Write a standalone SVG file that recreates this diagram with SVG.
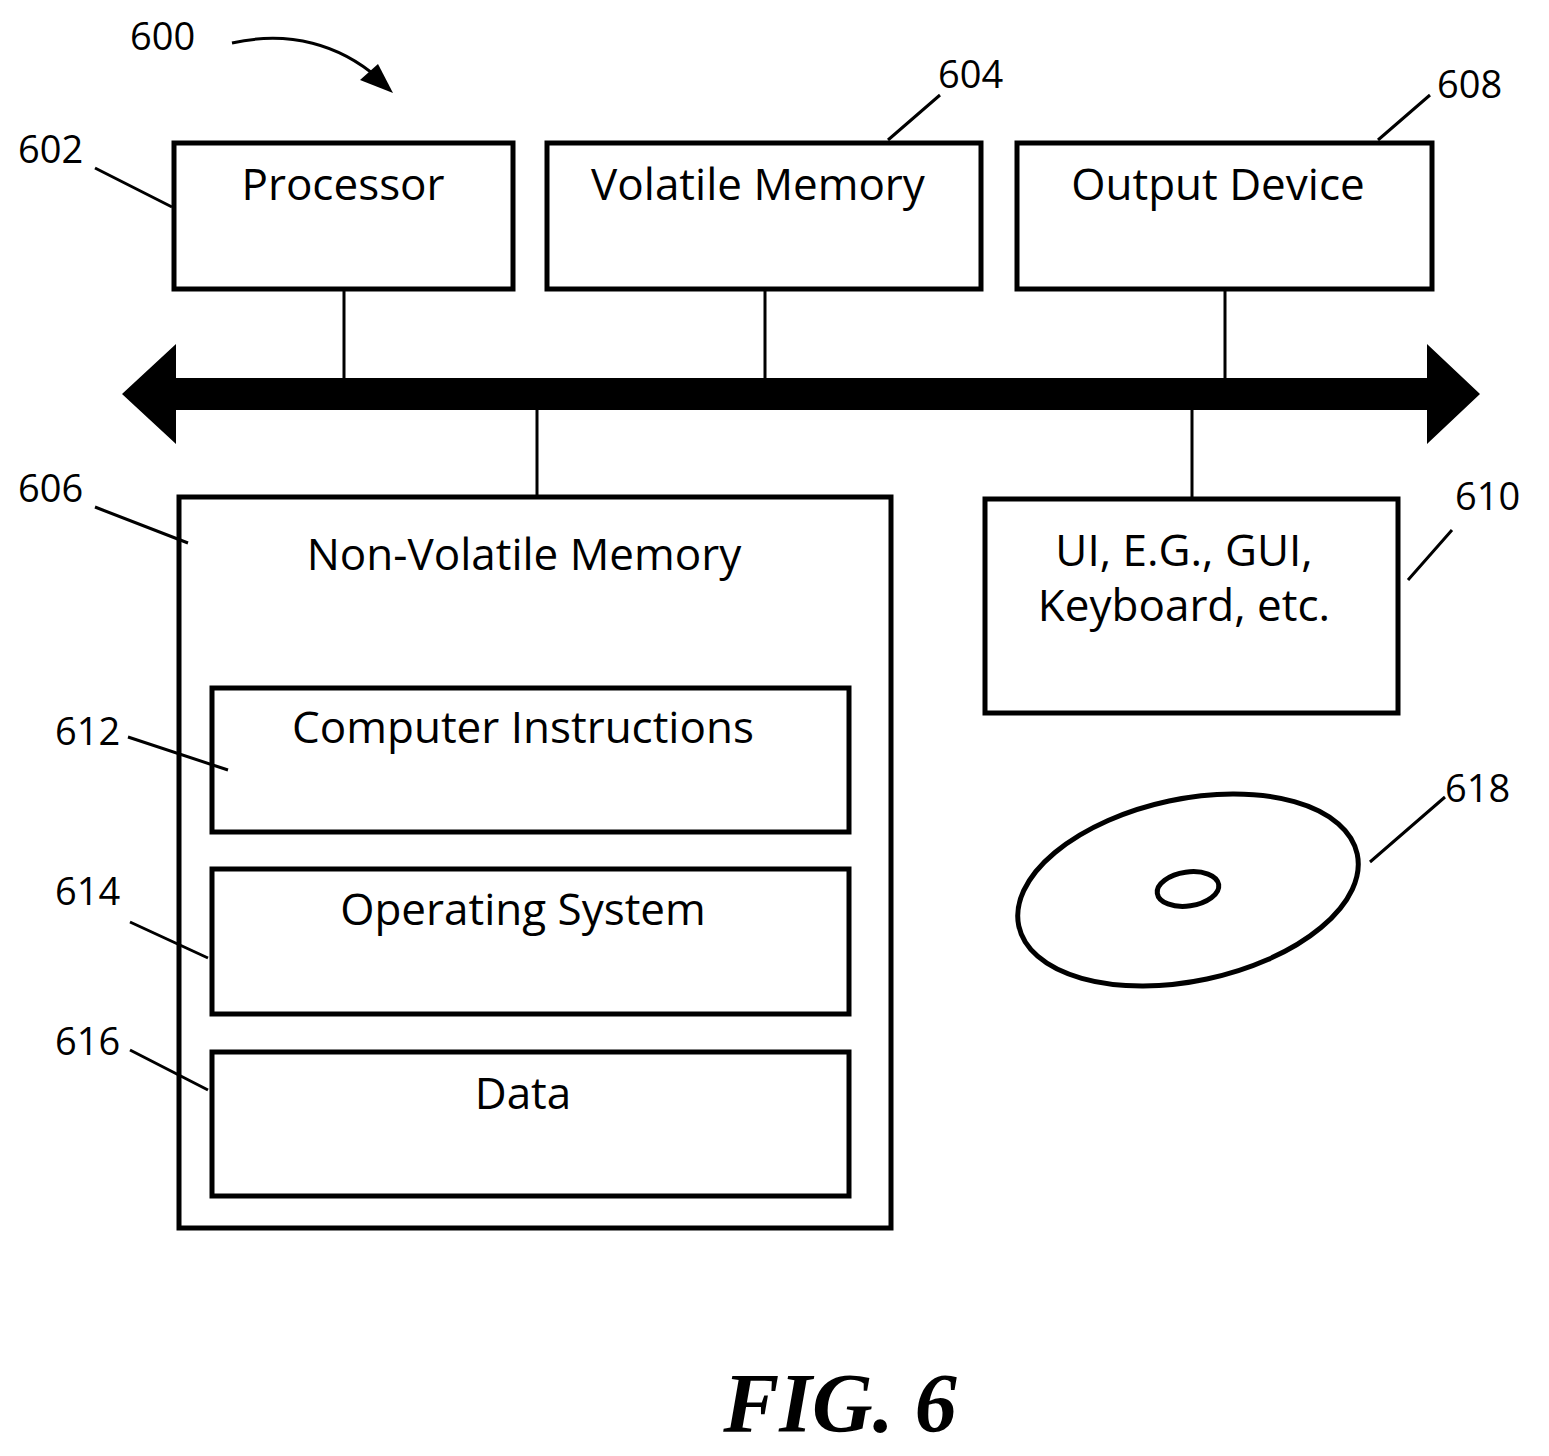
<svg xmlns="http://www.w3.org/2000/svg" width="1549" height="1456" viewBox="0 0 1549 1456">
<style>
.b{fill:none;stroke:#000;stroke-width:5}
.l{fill:none;stroke:#000;stroke-width:3}
.t{font-family:"Open Sans","Liberation Sans",sans-serif;font-size:44px;text-anchor:middle}
.n{font-family:"Open Sans","Liberation Sans",sans-serif;font-size:38px}
</style>
<defs><marker id="a" markerWidth="10" markerHeight="10" refX="8" refY="5" orient="auto" markerUnits="userSpaceOnUse" viewBox="0 0 10 10"><path d="M0,0L10,5L0,10z"/></marker></defs>
<rect width="1549" height="1456" fill="#fff"/>
<g id="connectors">
<path d="M122,394L176,344V378H1427V344L1480,394L1427,444V410H176V444Z" fill="#000"/>
<path class="l" d="M344,289V378M765,289V378M1225,289V378M537,410V497M1192,410V497"/>
<path class="l" d="M95,168L172,207M940,95L888,140M1430,95L1378,140M95,507L188,543M1452,530L1408,580M128,737L228,770M130,922L208,958M130,1050L208,1090M1445,797L1370,862"/>
<path d="M232,43C290,30 340,45 378,78" fill="none" stroke="#000" stroke-width="3"/>
<path d="M393,93L360,80L378,64Z" fill="#000"/>
</g>
<g id="n602"><rect class="b" x="174" y="143" width="339" height="146"/><text class="t" x="343" y="200">Processor</text></g>
<g id="n604"><rect class="b" x="547" y="143" width="434" height="146"/><text class="t" x="758" y="200">Volatile Memory</text></g>
<g id="n608"><rect class="b" x="1017" y="143" width="415" height="146"/><text class="t" x="1218" y="200">Output Device</text></g>
<g id="n606"><rect class="b" x="179" y="497" width="712" height="731"/><text class="t" x="524" y="570">Non-Volatile Memory</text></g>
<g id="n610"><rect class="b" x="985" y="499" width="413" height="214"/><text class="t" x="1184" y="566">UI, E.G., GUI,</text><text class="t" x="1184" y="621">Keyboard, etc.</text></g>
<g id="n612"><rect class="b" x="212" y="688" width="637" height="144"/><text class="t" x="523" y="743">Computer Instructions</text></g>
<g id="n614"><rect class="b" x="212" y="869" width="637" height="145"/><text class="t" x="523" y="925">Operating System</text></g>
<g id="n616"><rect class="b" x="212" y="1052" width="637" height="144"/><text class="t" x="523" y="1109">Data</text></g>
<g id="n618"><ellipse class="b" cx="1188" cy="890" rx="173" ry="91" transform="rotate(-12 1188 890)"/><ellipse class="b" cx="1188" cy="889" rx="31" ry="17" transform="rotate(-8 1188 889)"/></g>
<g id="labels">
<text class="n" x="130" y="50">600</text>
<text class="n" x="18" y="163">602</text>
<text class="n" x="938" y="88">604</text>
<text class="n" x="1437" y="98">608</text>
<text class="n" x="18" y="502">606</text>
<text class="n" x="1455" y="510">610</text>
<text class="n" x="55" y="745">612</text>
<text class="n" x="55" y="905">614</text>
<text class="n" x="55" y="1055">616</text>
<text class="n" x="1445" y="802">618</text>
<text x="840" y="1432" font-family="Liberation Serif,serif" font-size="84" font-weight="bold" font-style="italic" text-anchor="middle">FIG. 6</text>
</g>
</svg>
